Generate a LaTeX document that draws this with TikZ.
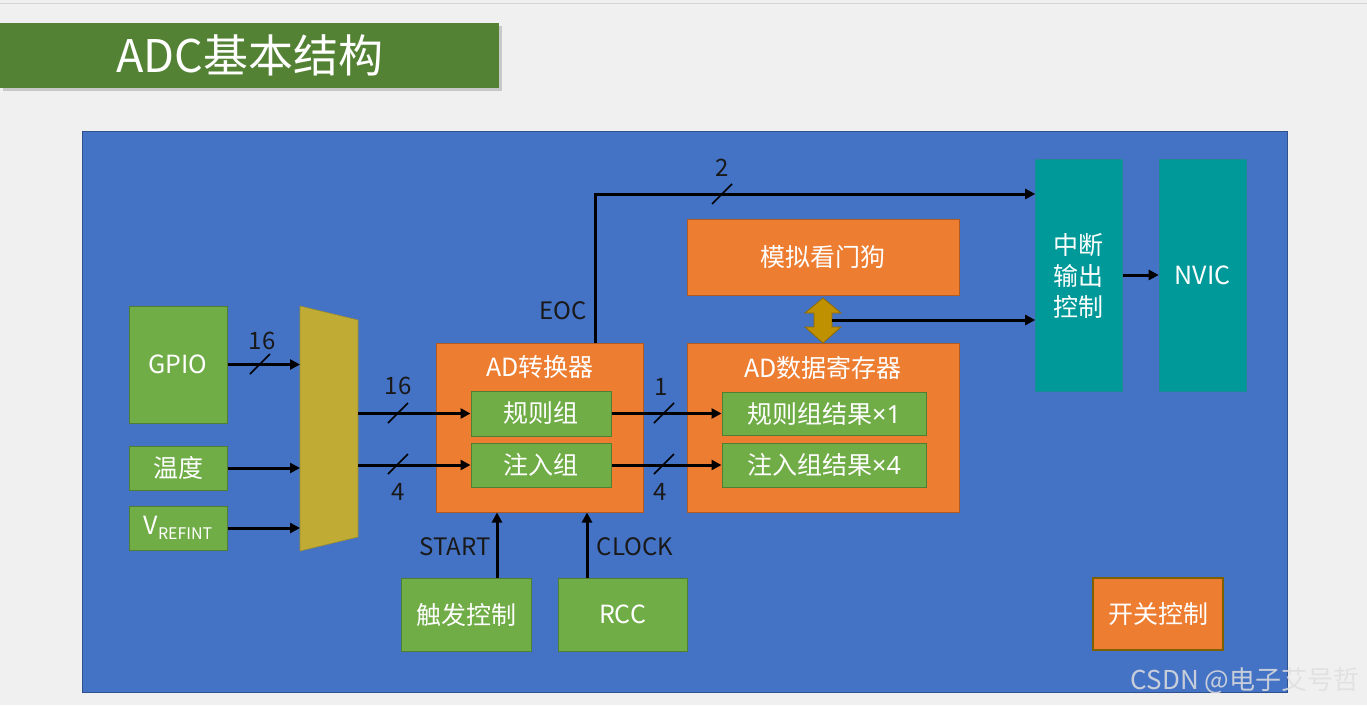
\documentclass[tikz,border=0pt]{standalone}
\usepackage{fontspec}
\setmainfont{Noto Sans CJK SC}
\newfontfamily\latfont{Noto Sans}
\usetikzlibrary{arrows.meta,shadows,calc}
\definecolor{bggray}{HTML}{F0F0F0}
\definecolor{lgray}{HTML}{D4D4D4}
\definecolor{titlegreen}{HTML}{548235}
\definecolor{panelblue}{HTML}{4472C4}
\definecolor{panelborder}{HTML}{2F528F}
\definecolor{boxgreen}{HTML}{70AD47}
\definecolor{boxgreenb}{HTML}{507E32}
\definecolor{boxorange}{HTML}{ED7D31}
\definecolor{boxorangeb}{HTML}{AE5A21}
\definecolor{switchb}{HTML}{7F6000}
\definecolor{teal}{HTML}{009999}
\definecolor{tealb}{HTML}{1E8A96}
\definecolor{muxgold}{HTML}{C0AC34}
\definecolor{muxb}{HTML}{9A8C2E}
\definecolor{dblgold}{HTML}{BF9000}
\definecolor{dblb}{HTML}{8F6B00}
\tikzset{
  boxtext/.style={text=white, font=\fontsize{25}{30}\selectfont},
  gbox/.style={boxtext, rectangle, fill=boxgreen, draw=boxgreenb, line width=1pt, inner sep=0pt},
  obox/.style={boxtext, rectangle, fill=boxorange, draw=boxorangeb, line width=1pt, inner sep=0pt},
  tbox/.style={boxtext, rectangle, fill=teal, draw=tealb, line width=0.6pt, inner sep=0pt},
  lbl/.style={text=black!90, font=\fontsize{24}{29}\selectfont, inner sep=0pt},
  arr/.style={line width=3pt, -{Triangle[length=10pt,width=10pt]}},
  slashmark/.style={line width=1.6pt, black},
}
\begin{document}
\begin{tikzpicture}[x=1pt,y=-1pt]
\useasboundingbox (0,0) rectangle (1367,705);
\fill[bggray] (0,0) rectangle (1367,705);
\draw[lgray, line width=1pt] (0,3) -- (1367,3);

% title
\node[fill=titlegreen, minimum width=499pt, minimum height=65pt, anchor=north west, inner sep=0pt,
      drop shadow={shadow xshift=3pt, shadow yshift=-3pt, opacity=0.35},
      text=white, font=\fontsize{45}{50}\selectfont] (title) at (0,23) {ADC基本结构};

% panel
\node[fill=panelblue, draw=panelborder, line width=1pt, minimum width=1205pt, minimum height=561pt,
      anchor=north west, inner sep=0pt] (panel) at (81.5,130.5) {};

% inputs
\node[gbox, minimum width=98pt, minimum height=117pt] (gpio) at (178,364.5) {GPIO};
\node[gbox, minimum width=98pt, minimum height=44pt] (temp) at (178,468) {温度};
\node[gbox, minimum width=98pt, minimum height=44pt] (vref) at (178,528)
   {V\raisebox{-5pt}{\fontsize{16}{16}\selectfont REFINT}};

% mux
\fill[muxgold, draw=muxb, line width=0.6pt] (300,306) -- (358,320) -- (358,537) -- (300,551) -- cycle;
\coordinate (muxin) at (300,430);
\coordinate (muxout) at (358,430);

% ADC
\node[obox, minimum width=207pt, minimum height=169pt] (adc) at (539.5,427.5) {};
\node[boxtext, inner sep=0pt] (adct) at (540,367) {AD转换器};
\node[gbox, minimum width=140pt, minimum height=45pt] (reg) at (541,413.5) {规则组};
\node[gbox, minimum width=140pt, minimum height=44pt] (inj) at (541,465) {注入组};

% data register
\node[obox, minimum width=272pt, minimum height=169pt] (dr) at (823,427.5) {};
\node[boxtext, inner sep=0pt] (drt) at (823,368) {AD数据寄存器};
\node[gbox, minimum width=204pt, minimum height=43pt] (regr) at (824,413.5) {规则组结果{\latfont ×1}};
\node[gbox, minimum width=204pt, minimum height=44pt] (injr) at (824,465) {注入组结果{\latfont ×4}};

% watchdog
\node[obox, minimum width=272pt, minimum height=76pt] (wd) at (823,257) {模拟看门狗};

% double arrow
\filldraw[fill=dblgold, draw=dblb, line width=0.8pt]
  (823,298) -- (841,313) -- (832,313) -- (832,327) -- (841,327) -- (823,343)
  -- (805,327) -- (814,327) -- (814,313) -- (805,313) -- cycle;
\coordinate (wdr) at (832,320);

% interrupt and NVIC
\node[tbox, minimum width=87pt, minimum height=232pt] (int) at (1079,275) {};
\node[boxtext, align=center, font=\fontsize{25}{31}\selectfont, inner sep=0pt] (intt) at (1078,276)
  {中断\\输出\\控制};
\node[tbox, minimum width=87pt, minimum height=232pt] (nvic) at (1202.5,275) {NVIC};

% bottom boxes
\node[gbox, minimum width=130pt, minimum height=73pt] (trig) at (466,614.5) {触发控制};
\node[gbox, minimum width=129pt, minimum height=73pt] (rcc) at (622.5,614.5) {RCC};
\node[obox, draw=switchb, line width=1.5pt, minimum width=130pt, minimum height=72pt] (sw) at (1158,614) {开关控制};

% connectors
\draw[arr] (gpio.east) -- (gpio.east -| muxin);
\draw[arr] (temp.east) -- (temp.east -| muxin);
\draw[arr] (vref.east) -- (vref.east -| muxin);
\draw[arr] (muxout |- reg.west) -- (reg.west);
\draw[arr] (muxout |- inj.west) -- (inj.west);
\draw[arr] (reg.east) -- (regr.west);
\draw[arr] (inj.east) -- (injr.west);
\coordinate (eoc) at (595,194);
\draw[arr] (eoc |- adc.north) -- (eoc) -- (eoc -| int.west);
\draw[arr] (wdr) -- (wdr -| int.west);
\draw[arr] (int.east) -- (nvic.west);
\draw[arr] ([xshift=31pt]trig.north) -- ([xshift=31pt]trig.north |- adc.south);
\draw[arr] ([xshift=-35.5pt]rcc.north) -- ([xshift=-35.5pt]rcc.north |- adc.south);

% bus slashes
\draw[slashmark] (250,374) -- (270,354);
\draw[slashmark] (388,423) -- (408,403);
\draw[slashmark] (388,474) -- (408,454);
\draw[slashmark] (654,423) -- (674,403);
\draw[slashmark] (654,474) -- (674,454);
\draw[slashmark] (712,204) -- (732,184);

% labels
\node[lbl] (l16a) at (262,341) {16};
\node[lbl] (l16b) at (398,386) {16};
\node[lbl] (l4a) at (398,492) {4};
\node[lbl] (l1) at (661,387) {1};
\node[lbl] (l4b) at (660,492) {4};
\node[lbl] (l2) at (722,168) {2};
\node[lbl] (leoc) at (563,311) {EOC};
\node[lbl] (lstart) at (455,547) {START};
\node[lbl] (lclock) at (635,547) {CLOCK};

% watermark
\node[text=white!75!gray, opacity=0.85, font=\fontsize{26}{30}\selectfont, inner sep=0pt] (wm) at (1245,681) {CSDN @电子艾号哲};
\end{tikzpicture}
\end{document}
